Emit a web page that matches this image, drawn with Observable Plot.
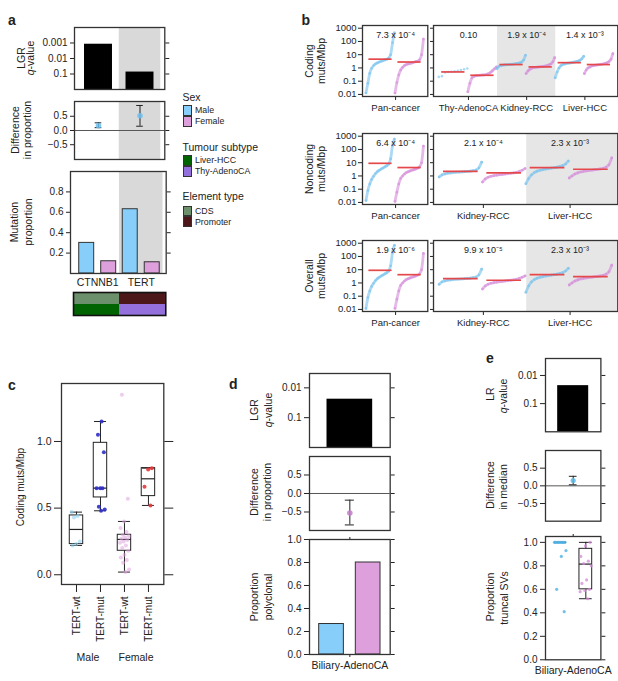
<!DOCTYPE html>
<html><head><meta charset="utf-8">
<script src="https://cdn.jsdelivr.net/npm/d3@7"></script>
<script src="https://cdn.jsdelivr.net/npm/@observablehq/plot@0.6"></script>
<style>
body{margin:0;background:#fff;}
#root{position:relative;width:618px;height:681px;overflow:hidden;font-family:"Liberation Sans",Arial,Helvetica,sans-serif;color:#222;}
.rot{position:absolute;transform:translate(-50%,-50%) rotate(-90deg);white-space:nowrap;line-height:1;}
.hl{position:absolute;transform:translate(-50%,-50%);white-space:nowrap;line-height:1;}
.tl{position:absolute;white-space:nowrap;line-height:1;}
.letter{position:absolute;font-weight:bold;font-size:14px;line-height:14px;}
.sw{position:absolute;width:7px;height:8.5px;border:1px solid #333;}
</style></head><body><div id="root"></div>
<script>
// ================= DATA =================
// Panel a
const aGenes = ["CTNNB1", "TERT"];
const aShaded = ["TERT"];
const aLgrQ = [0.0012, 0.075];
const aDiff = [0.17, 0.52];
const aDiffLo = [0.10, 0.15];
const aDiffHi = [0.27, 0.88];
const aPropMale = [0.30, 0.63];
const aPropFemale = [0.12, 0.11];
const aElementType = ["CDS", "Promoter"];
const aTumourSubtype = ["Liver-HCC", "Thy-AdenoCA"];
const aQTicks = [0.001, 0.01, 0.1];
const aPropTicks = [0.2, 0.4, 0.6, 0.8];
const diffTicks = [-0.5, 0, 0.5];

// Panel b
const bLogTicks = [0.01, 0.1, 1, 10, 100, 1000];
const bPanLabel = "Pan-cancer";
const bCodingTypes = ["Thy-AdenoCA", "Kidney-RCC", "Liver-HCC"];
const bOtherTypes = ["Kidney-RCC", "Liver-HCC"];
const bCodingShaded = "Kidney-RCC";
const bOtherShaded = "Liver-HCC";
const bCodingP = ["7.3 x 10\u207B\u2074", "0.10", "1.9 x 10\u207B\u2074", "1.4 x 10\u207B\u00B3"];
const bNoncodingP = ["6.4 x 10\u207B\u2074", "2.1 x 10\u207B\u2074", "2.3 x 10\u207B\u00B3"];
const bOverallP = ["1.9 x 10\u207B\u2076", "9.9 x 10\u207B\u2075", "2.3 x 10\u207B\u00B3"];

const bCodingPanMale = [0.013, 0.07, 0.4, 0.95, 1.5, 2.0, 2.4, 2.8, 3.2, 3.6, 4.1, 4.6, 5.6, 10, 80, 450];
const bCodingPanFemale = [0.013, 0.08, 0.3, 0.7, 1.1, 1.5, 1.8, 2.0, 2.2, 2.4, 2.7, 3.0, 3.3, 4.2, 10, 150];
const bCodingThyMale = [0.21, 0.24, 0.45, 0.5, 0.52, 0.55, 0.6, 0.7, 0.8, 0.9];
const bCodingThyFemale = [0.016, 0.07, 0.18, 0.23, 0.26, 0.27, 0.28, 0.29, 0.3, 0.32, 0.36, 0.45, 0.6, 0.85, 1.2];
const bCodingKidneyMale = [0.9, 1.3, 1.5, 1.6, 1.7, 1.75, 1.8, 1.85, 1.9, 2.0, 2.1, 2.2, 2.4, 2.8, 4.0, 9.0];
const bCodingKidneyFemale = [0.38, 0.6, 0.8, 0.95, 1.05, 1.1, 1.15, 1.2, 1.25, 1.3, 1.4, 1.5, 1.7, 2.0, 2.8, 6.0];
const bCodingLiverMale = [0.18, 0.5, 1.0, 1.5, 1.8, 2.0, 2.2, 2.3, 2.4, 2.6, 2.8, 3.0, 3.3, 3.8, 5.0, 7.5];
const bCodingLiverFemale = [0.38, 0.7, 1.0, 1.2, 1.4, 1.5, 1.6, 1.7, 1.8, 1.9, 2.0, 2.2, 2.5, 3.0, 4.5, 12];
const bCodingMedMale = [4.6, 0.5, 1.8, 2.5];
const bCodingMedFemale = [2.8, 0.28, 1.2, 1.8];

const bNoncodingPanMale = [0.014, 0.08, 0.25, 0.55, 0.95, 1.5, 2.1, 2.7, 3.3, 4.0, 4.9, 6.0, 8.0, 20, 200, 600];
const bNoncodingPanFemale = [0.012, 0.06, 0.25, 0.65, 1.0, 1.4, 1.8, 2.1, 2.4, 2.7, 3.0, 3.4, 3.9, 5.0, 10, 180];
const bNoncodingKidneyMale = [0.84, 1.2, 1.4, 1.6, 1.7, 1.8, 1.9, 1.95, 2.0, 2.1, 2.2, 2.3, 2.5, 2.8, 4.0, 11];
const bNoncodingKidneyFemale = [0.35, 0.6, 0.8, 0.95, 1.05, 1.15, 1.25, 1.3, 1.4, 1.5, 1.6, 1.7, 1.9, 2.2, 2.7, 3.6];
const bNoncodingLiverMale = [0.26, 0.63, 1.2, 1.8, 2.3, 2.7, 3.0, 3.3, 3.6, 3.9, 4.2, 4.6, 5.2, 6.0, 8.0, 13.5];
const bNoncodingLiverFemale = [0.7, 1.0, 1.4, 1.7, 2.0, 2.2, 2.4, 2.6, 2.7, 2.9, 3.1, 3.4, 3.8, 4.6, 7.0, 23];
const bNoncodingMedMale = [9.0, 2.2, 4.3];
const bNoncodingMedFemale = [4.3, 1.7, 3.2];

const bOverallPanMale = [0.012, 0.08, 0.25, 0.55, 0.95, 1.5, 2.1, 2.7, 3.3, 4.0, 4.9, 6.0, 8.0, 20, 200, 700];
const bOverallPanFemale = [0.012, 0.06, 0.25, 0.65, 1.0, 1.4, 1.8, 2.1, 2.4, 2.7, 3.0, 3.4, 3.9, 5.0, 10, 170];
const bOverallKidneyMale = [0.8, 1.2, 1.4, 1.6, 1.7, 1.8, 1.9, 1.95, 2.0, 2.1, 2.2, 2.3, 2.5, 2.8, 4.0, 11];
const bOverallKidneyFemale = [0.35, 0.6, 0.8, 0.95, 1.05, 1.15, 1.25, 1.3, 1.4, 1.5, 1.6, 1.7, 1.9, 2.2, 2.7, 3.4];
const bOverallLiverMale = [0.2, 0.6, 1.2, 1.8, 2.3, 2.7, 3.0, 3.3, 3.6, 3.9, 4.2, 4.6, 5.2, 6.0, 8.0, 13];
const bOverallLiverFemale = [0.7, 1.0, 1.4, 1.7, 2.0, 2.2, 2.4, 2.6, 2.7, 2.9, 3.1, 3.4, 3.8, 4.6, 7.0, 22];
const bOverallMedMale = [9.0, 2.1, 4.2];
const bOverallMedFemale = [4.2, 1.6, 3.0];

// Panel c
const cGroups = ["TERT-wt", "TERT-mut", "TERT-wt", "TERT-mut"];
const cSexLabels = ["Male", "Female"];
const cQ1 = [0.23, 0.58, 0.18, 0.59];
const cMed = [0.34, 0.65, 0.265, 0.72];
const cQ3 = [0.445, 0.99, 0.30, 0.80];
const cLo = [0.22, 0.48, 0.02, 0.52];
const cHi = [0.47, 1.15, 0.40, 0.80];
const cMaleWt = [0.47, 0.44, 0.43, 0.25, 0.23, 0.22];
const cMaleMut = [1.15, 1.05, 0.92, 0.65, 0.65, 0.65, 0.51, 0.49, 0.48];
const cFemaleWt = [1.35, 0.57, 0.40, 0.35, 0.32, 0.30, 0.29, 0.28, 0.27, 0.26, 0.25, 0.24, 0.22, 0.20, 0.18, 0.15, 0.13, 0.11, 0.09, 0.04, 0.02];
const cFemaleMut = [0.80, 0.79, 0.66, 0.52];
const cTicks = [0, 0.5, 1];

// Panel d
const dTumour = "Biliary-AdenoCA";
const dLgrQ = 0.024;
const dDiff = -0.53, dDiffLo = -0.85, dDiffHi = -0.18;
const dPolyMale = 0.265, dPolyFemale = 0.80;
const dQTicks = [0.01, 0.1];
const propTicks = [0, 0.2, 0.4, 0.6, 0.8, 1.0];

// Panel e
const eLrQ = 0.023;
const eDiff = 0.15, eDiffLo = 0.03, eDiffHi = 0.27;
const eQ1 = [1.0, 0.60], eMed = [1.0, 0.815], eQ3 = [1.0, 0.945], eLo = [1.0, 0.52], eHi = [1.0, 1.0];
const eMale = [1, 1, 1, 1, 1, 1, 1, 1, 0.93, 0.88, 0.60, 0.41];
const eFemale = [1.0, 0.97, 0.88, 0.84, 0.82, 0.80, 0.68, 0.65, 0.60, 0.59, 0.58, 0.52];

// ================= STYLE / HELPERS =================
const FONT = '"Liberation Sans", Arial, Helvetica, sans-serif';
const BLUE = "#87cefa", PINK = "#dda0dd", RED = "#e5484b";
const BBLUE = "#74c2ee", BPINK = "#d48ad8";
const GRAY_A = "#d9d9d9", GRAY_B = "#e6e6e6";
const root = document.getElementById("root");
const f1 = d3.format(".1f");

function place(frame, m, opts, fs = 9.5) {
  const [x0, y0, x1, y1] = frame; const [mt, mr, mb, ml] = m;
  const svg = Plot.plot(Object.assign({
    width: x1 - x0 + ml + mr, height: y1 - y0 + mt + mb,
    marginTop: mt, marginRight: mr, marginBottom: mb, marginLeft: ml,
    style: {background: "transparent", overflow: "visible", maxWidth: "none", fontFamily: FONT, fontSize: fs + "px", color: "#222"}
  }, opts));
  const d = document.createElement("div");
  d.style.position = "absolute"; d.style.left = (x0 - ml) + "px"; d.style.top = (y0 - mt) + "px";
  d.appendChild(svg); root.appendChild(d);
}
const FR = () => Plot.frame({stroke: "#333", strokeWidth: 1.3});
const mirrorY = (ticks, size = 4) => Plot.axisY({anchor: "right", ticks, tickSize: size, tickFormat: () => "", label: null});
function vlabel(html, cx, cy, fs = 10.5) {
  const d = document.createElement("div"); d.className = "rot";
  d.style.left = cx + "px"; d.style.top = cy + "px"; d.style.fontSize = fs + "px"; d.innerHTML = html; root.appendChild(d);
}
function hlabel(html, cx, cy, fs = 10) {
  const d = document.createElement("div"); d.className = "hl";
  d.style.left = cx + "px"; d.style.top = cy + "px"; d.style.fontSize = fs + "px"; d.innerHTML = html; root.appendChild(d);
}
function tlabel(html, x, top, fs, bold) {
  const d = document.createElement("div"); d.className = bold ? "letter" : "tl";
  d.style.left = x + "px"; d.style.top = top + "px"; if (fs) d.style.fontSize = fs + "px"; d.innerHTML = html; root.appendChild(d);
}
function swatch(x, y, color) {
  const d = document.createElement("div"); d.className = "sw";
  d.style.left = x + "px"; d.style.top = y + "px"; d.style.background = color; root.appendChild(d);
}
const jit = (i, amp) => ((((i * 0.6180339887) % 1) - 0.5) * 2 * amp);

function boxMarks(stats, half, capHalf, stroke = "#222") {
  return [
    Plot.ruleX(stats, {x: "x", y1: "lo", y2: "q1", stroke}),
    Plot.ruleX(stats, {x: "x", y1: "q3", y2: "hi", stroke}),
    Plot.ruleY(stats, {y: "lo", x1: d => d.x - capHalf, x2: d => d.x + capHalf, stroke}),
    Plot.ruleY(stats, {y: "hi", x1: d => d.x - capHalf, x2: d => d.x + capHalf, stroke}),
    Plot.rect(stats.filter(d => d.q3 > d.q1), {x1: d => d.x - half, x2: d => d.x + half, y1: "q1", y2: "q3", fill: "none", stroke}),
    Plot.ruleY(stats, {y: "med", x1: d => d.x - half, x2: d => d.x + half, stroke, strokeWidth: 1.2})
  ];
}
function errMarks(rows, cap, fill, r = 3) {
  return [
    Plot.ruleX(rows, {x: "x", y1: "lo", y2: "hi", stroke: "#222"}),
    Plot.ruleY(rows, {y: "lo", x1: d => d.x - cap, x2: d => d.x + cap, stroke: "#222"}),
    Plot.ruleY(rows, {y: "hi", x1: d => d.x - cap, x2: d => d.x + cap, stroke: "#222"}),
    Plot.dot(rows, {x: "x", y: "v", r, fill, fillOpacity: 0.85})
  ];
}

// ================= PANEL A =================
const aIdx = aGenes.map((g, i) => i);
const aShadeRows = aIdx.filter(i => aShaded.includes(aGenes[i]));
const aShade = () => Plot.rect(aShadeRows, {x1: d => d - 0.5, x2: d => d + 0.5, fill: GRAY_A});
const aXTop = {domain: [-0.578, 1.597], axis: null};

place([74, 27, 164.3, 89], [4, 8, 4, 40], {
  x: aXTop, y: {type: "log", domain: [1, 1e-4]},
  marks: [
    aShade(),
    Plot.rect(aIdx, {x1: i => i - 0.337, x2: i => i + 0.337, y1: 1, y2: i => aLgrQ[i], fill: "#000"}),
    Plot.axisY({ticks: aQTicks, tickFormat: d => String(d), tickSize: 4, tickPadding: 3, label: null, fontSize: 10}),
    mirrorY(aQTicks), FR()
  ]
});
const aDiffRows = aIdx.map(i => ({x: i, v: aDiff[i], lo: aDiffLo[i], hi: aDiffHi[i]}));
place([74, 101, 164.3, 159], [4, 8, 4, 40], {
  x: aXTop, y: {domain: [-1.02, 1.02]},
  marks: [
    aShade(),
    Plot.ruleY([0], {stroke: "#555", strokeWidth: 1}),
    ...errMarks(aDiffRows, 0.08, "#6cc0f0", 2.8),
    Plot.axisY({ticks: diffTicks, tickFormat: f1, tickSize: 4, tickPadding: 3, label: null, fontSize: 10}),
    mirrorY(diffTicks), FR()
  ]
});
const aBarsM = aIdx.map(i => ({x: i - 0.2526, v: aPropMale[i]}));
const aBarsF = aIdx.map(i => ({x: i + 0.2526, v: aPropFemale[i]}));
place([70, 171, 165.7, 273], [4, 8, 20, 40], {
  x: {domain: [-0.625, 1.573]}, y: {domain: [0, 1.0]},
  marks: [
    aShade(),
    Plot.rect(aBarsM, {x1: d => d.x - 0.172, x2: d => d.x + 0.172, y1: 0, y2: "v", fill: BLUE, stroke: "#333", strokeWidth: 1}),
    Plot.rect(aBarsF, {x1: d => d.x - 0.172, x2: d => d.x + 0.172, y1: 0, y2: "v", fill: PINK, stroke: "#333", strokeWidth: 1}),
    Plot.axisY({ticks: aPropTicks, tickFormat: f1, tickSize: 4, tickPadding: 3, label: null, fontSize: 10}),
    mirrorY(aPropTicks),
    Plot.axisX({ticks: aIdx, tickFormat: i => aGenes[i], tickSize: 0, tickPadding: 5, label: null, fontSize: 10.5}),
    FR()
  ]
});
const annotRows = ["Element type", "Tumour subtype"];
const annot = aGenes.flatMap((g, i) => [
  {g, row: annotRows[0], v: aElementType[i]},
  {g, row: annotRows[1], v: aTumourSubtype[i]}
]);
place([72.7, 292, 165, 315], [2, 2, 2, 2], {
  x: {domain: aGenes, axis: null, padding: 0}, y: {domain: annotRows, axis: null, padding: 0},
  color: {domain: ["CDS", "Promoter", "Liver-HCC", "Thy-AdenoCA"], range: ["#6c8f6c", "#4c1719", "#006400", "#9370db"]},
  marks: [Plot.cell(annot, {x: "g", y: "row", fill: "v", inset: 0}), Plot.frame({stroke: "#111", strokeWidth: 1.6})]
});

// legend (panel a)
tlabel("Sex", 182.5, 91.5, 10.5);
swatch(182.5, 105.3, BLUE); tlabel("Male", 195, 106, 8.8);
swatch(182.5, 116.2, PINK); tlabel("Female", 195, 117, 8.8);
tlabel("Tumour subtype", 182.5, 141.5, 10.5);
swatch(182.5, 155, "#006400"); tlabel("Liver-HCC", 195, 156, 8.8);
swatch(182.5, 166, "#9370db"); tlabel("Thy-AdenoCA", 195, 167, 8.8);
tlabel("Element type", 182.5, 190.5, 10.5);
swatch(182.5, 205.5, "#6c8f6c"); tlabel("CDS", 195, 206.5, 8.8);
swatch(182.5, 216.4, "#4c1719"); tlabel("Promoter", 195, 217.5, 8.8);

vlabel("LGR", 20.5, 58); vlabel("<i>q</i>-value", 30, 58);
vlabel("Difference", 14.5, 130); vlabel("in proportion", 27, 130);
vlabel("Mutation", 14, 222); vlabel("proportion", 28, 222);

// ================= PANEL B =================
function curve(vals, k, color) {
  const n = vals.length;
  const pts = vals.map((v, i) => ({x: k - 0.02 + 0.98 * i / (n - 1), v}));
  const marks = [Plot.dot(pts, {x: "x", y: "v", r: 1.3, fill: color, fillOpacity: 0.6})];
  if (n >= 12) marks.unshift(Plot.line(pts, {x: "x", y: "v", stroke: color, strokeWidth: 2.8, strokeOpacity: 0.6, curve: "monotone-x"}));
  return marks;
}
const medLine = (m, k) => Plot.ruleY([m], {y: d => d, x1: k + 0.08, x2: k + 0.88, stroke: RED, strokeWidth: 1.7});

function bRow(top, types, shadedType, pvals, panM, panF, typM, typF, medM, medF) {
  const H = 71;
  const y = {type: "log", domain: [0.007, 1600]};
  place([362, top, 427.3, top + H], [4, 3, 24, 32], {
    x: {domain: [-0.14, 2.11]}, y,
    marks: [
      ...curve(panM, 0, BBLUE), ...curve(panF, 1, BPINK),
      medLine(medM[0], 0), medLine(medF[0], 1),
      Plot.text([pvals[0]], {x: 1, text: d => d, frameAnchor: "top", dy: 6, fontSize: 9}),
      Plot.axisY({ticks: bLogTicks, tickFormat: d => String(d), tickSize: 4, tickPadding: 2, label: null}),
      Plot.axisX({ticks: [1], tickFormat: () => bPanLabel, tickSize: 4, tickPadding: 4, label: null}),
      FR()
    ]
  });
  const nT = types.length;
  const sh = types.indexOf(shadedType);
  const rightDomain = nT === 3 ? [-0.2, 6.13] : [-0.15, 4.1];
  const cm = [];
  types.forEach((t, j) => { cm.push(...curve(typM[j], 2 * j, BBLUE), ...curve(typF[j], 2 * j + 1, BPINK)); });
  const meds = [];
  types.forEach((t, j) => { meds.push(medLine(medM[j + 1], 2 * j), medLine(medF[j + 1], 2 * j + 1)); });
  const pv = types.map((t, j) => ({x: 2 * j + 1, t: pvals[j + 1]}));
  place([432.7, top, 617, top + H], [4, 1, 24, 4], {
    x: {domain: rightDomain}, y,
    marks: [
      Plot.rect([sh], {x1: d => d === 0 ? -1 : 2 * d, x2: d => d === nT - 1 ? 2 * d + 3 : 2 * d + 2, fill: GRAY_B, clip: true}),
      ...cm, ...meds,
      Plot.text(pv, {x: "x", text: "t", frameAnchor: "top", dy: 6, fontSize: 9}),
      Plot.axisY({ticks: bLogTicks, tickFormat: () => "", tickSize: 3, label: null}),
      Plot.axisX({ticks: types.map((t, j) => 2 * j + 1), tickFormat: v => types[(v - 1) / 2], tickSize: 4, tickPadding: 4, label: null}),
      FR()
    ]
  });
}
bRow(25, bCodingTypes, bCodingShaded, bCodingP, bCodingPanMale, bCodingPanFemale,
  [bCodingThyMale, bCodingKidneyMale, bCodingLiverMale], [bCodingThyFemale, bCodingKidneyFemale, bCodingLiverFemale],
  bCodingMedMale, bCodingMedFemale);
bRow(133, bOtherTypes, bOtherShaded, bNoncodingP, bNoncodingPanMale, bNoncodingPanFemale,
  [bNoncodingKidneyMale, bNoncodingLiverMale], [bNoncodingKidneyFemale, bNoncodingLiverFemale],
  bNoncodingMedMale, bNoncodingMedFemale);
bRow(240, bOtherTypes, bOtherShaded, bOverallP, bOverallPanMale, bOverallPanFemale,
  [bOverallKidneyMale, bOverallLiverMale], [bOverallKidneyFemale, bOverallLiverFemale],
  bOverallMedMale, bOverallMedFemale);
vlabel("Coding", 309, 60.5); vlabel("muts/Mbp", 320.5, 60.5);
vlabel("Noncoding", 309, 168.5); vlabel("muts/Mbp", 320.5, 168.5);
vlabel("Overall", 309, 275.5); vlabel("muts/Mbp", 320.5, 275.5);

// ================= PANEL C =================
const cIdx = [0, 1, 2, 3];
const cStats = cIdx.map(i => ({x: i, q1: cQ1[i], med: cMed[i], q3: cQ3[i], lo: cLo[i], hi: cHi[i]}));
const cSets = [cMaleWt, cMaleMut, cFemaleWt, cFemaleMut];
const cCols = ["#8ed4f3", "#2d2dc8", "#dea3de", "#e5383c"];
const cOps = [0.6, 0.9, 0.55, 0.9];
const cDots = cSets.map((arr, g) => Plot.dot(arr.map((v, i) => ({x: g + jit(i + g, 0.2), v})),
  {x: "x", y: "v", r: 2, fill: cCols[g], fillOpacity: cOps[g]}));
place([61, 383, 163.3, 584], [4, 14, 64, 40], {
  x: {domain: [-0.625, 3.64]}, y: {domain: [-0.073, 1.435]},
  marks: [
    ...boxMarks(cStats, 0.28, 0.25),
    ...cDots,
    Plot.axisY({ticks: cTicks, tickFormat: f1, tickSize: 7, tickPadding: 3, label: null, fontSize: 10.5}),
    Plot.axisY({anchor: "right", ticks: cTicks, tickSize: 9, tickFormat: () => "", label: null}),
    Plot.axisX({ticks: cIdx, tickFormat: i => cGroups[i], tickRotate: -90, tickSize: 8, tickPadding: 4, label: null, fontSize: 10}),
    FR()
  ]
});
vlabel("Coding muts/Mbp", 21, 487, 10);
hlabel(cSexLabels[0], 88, 657, 10.5); hlabel(cSexLabels[1], 136, 657, 10.5);

// ================= PANEL D =================
place([309.3, 372.7, 390, 446.7], [4, 8, 4, 40], {
  x: {domain: [-0.5, 0.5], axis: null}, y: {type: "log", domain: [1, 0.0033]},
  marks: [
    Plot.rect([dLgrQ], {x1: -0.283, x2: 0.283, y1: 1, y2: d => d, fill: "#000"}),
    Plot.axisY({ticks: dQTicks, tickFormat: d => String(d), tickSize: 5, tickPadding: 3, label: null, fontSize: 10}),
    mirrorY(dQTicks), FR()
  ]
});
place([309.3, 456, 390, 530], [4, 8, 4, 40], {
  x: {domain: [-0.5, 0.5], axis: null}, y: {domain: [-1, 1]},
  marks: [
    Plot.ruleY([0], {stroke: "#555"}),
    ...errMarks([{x: 0, v: dDiff, lo: dDiffLo, hi: dDiffHi}], 0.056, "#c47cc8", 2.8),
    Plot.axisY({ticks: diffTicks, tickFormat: f1, tickSize: 5, tickPadding: 3, label: null, fontSize: 10}),
    mirrorY(diffTicks), FR()
  ]
});
place([309.3, 539, 390, 654], [6, 8, 22, 40], {
  x: {domain: [-0.5, 0.5]}, y: {domain: [0, 1]},
  marks: [
    Plot.rect([{x: -0.227, v: dPolyMale}], {x1: d => d.x - 0.153, x2: d => d.x + 0.153, y1: 0, y2: "v", fill: BLUE, stroke: "#333"}),
    Plot.rect([{x: 0.227, v: dPolyFemale}], {x1: d => d.x - 0.153, x2: d => d.x + 0.153, y1: 0, y2: "v", fill: PINK, stroke: "#333"}),
    Plot.axisY({ticks: propTicks, tickFormat: f1, tickSize: 5, tickPadding: 3, label: null, fontSize: 10}),
    mirrorY(propTicks),
    Plot.axisX({ticks: [0], tickFormat: () => dTumour, tickSize: 3, tickPadding: 4, label: null, fontSize: 10.5}),
    Plot.axisX({anchor: "top", ticks: [0], tickFormat: () => "", tickSize: 3, label: null}),
    FR()
  ]
});
vlabel("LGR", 253.7, 410); vlabel("<i>q</i>-value", 267.7, 410);
vlabel("Difference", 254, 492); vlabel("in proportion", 267, 492);
vlabel("Proportion", 254, 597); vlabel("polyclonal", 267.5, 597);

// ================= PANEL E =================
place([545.3, 358, 600.7, 431.3], [4, 8, 4, 40], {
  x: {domain: [-0.5, 0.5], axis: null}, y: {type: "log", domain: [1, 0.0025]},
  marks: [
    Plot.rect([eLrQ], {x1: -0.28, x2: 0.28, y1: 1, y2: d => d, fill: "#000"}),
    Plot.axisY({ticks: dQTicks, tickFormat: d => String(d), tickSize: 5, tickPadding: 3, label: null, fontSize: 10}),
    mirrorY(dQTicks), FR()
  ]
});
place([545.3, 450, 600.7, 520.7], [4, 8, 4, 40], {
  x: {domain: [-0.5, 0.5], axis: null}, y: {domain: [-1, 1]},
  marks: [
    Plot.ruleY([0], {stroke: "#555"}),
    ...errMarks([{x: 0, v: eDiff, lo: eDiffLo, hi: eDiffHi}], 0.07, "#5ab8ea", 2.6),
    Plot.axisY({ticks: diffTicks, tickFormat: f1, tickSize: 5, tickPadding: 3, label: null, fontSize: 10}),
    mirrorY(diffTicks), FR()
  ]
});
const eStats = [0, 1].map(i => ({x: i === 0 ? -0.228 : 0.228, q1: eQ1[i], med: eMed[i], q3: eQ3[i], lo: eLo[i], hi: eHi[i]}));
place([545.3, 536, 600.7, 659.3], [6, 8, 22, 40], {
  x: {domain: [-0.5, 0.5]}, y: {domain: [0, 1.05]},
  marks: [
    ...boxMarks(eStats.slice(1), 0.115, 0.115),
    Plot.ruleY([eStats[0]], {y: "med", x1: d => d.x - 0.11, x2: d => d.x + 0.11, stroke: "#1f4f7a", strokeWidth: 1.6}),
    Plot.dot(eMale.map((v, i) => ({x: -0.228 + jit(i, 0.11), v})), {x: "x", y: "v", r: 1.6, fill: "#4fb1e3", fillOpacity: 0.8}),
    Plot.dot(eFemale.map((v, i) => ({x: 0.228 + jit(i + 3, 0.11), v})), {x: "x", y: "v", r: 1.6, fill: "#d48ad8", fillOpacity: 0.75}),
    Plot.axisY({ticks: propTicks, tickFormat: f1, tickSize: 5, tickPadding: 3, label: null, fontSize: 10}),
    mirrorY(propTicks),
    Plot.axisX({ticks: [0], tickFormat: () => dTumour, tickSize: 0, tickPadding: 7, label: null, fontSize: 10.5}),
    Plot.axisX({anchor: "top", ticks: [0], tickFormat: () => "", tickSize: 3, label: null}),
    FR()
  ]
});
vlabel("LR", 489.5, 394); vlabel("<i>q</i>-value", 503, 395.5);
vlabel("Difference", 490, 485); vlabel("in median", 503, 486.5);
vlabel("Proportion", 490, 597); vlabel("truncal SVs", 504, 597.5);

// panel letters
tlabel("a", 8, 13, null, true);
tlabel("b", 301.5, 13, null, true);
tlabel("c", 8, 378, null, true);
tlabel("d", 229, 377, null, true);
tlabel("e", 486, 351, null, true);
</script></body></html>
